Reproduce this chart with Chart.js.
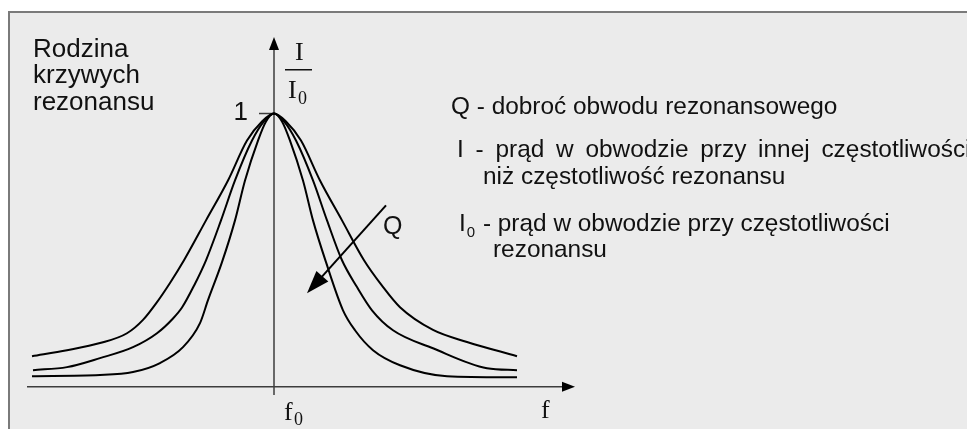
<!DOCTYPE html>
<html lang="pl">
<head>
<meta charset="utf-8">
<title>Rodzina krzywych rezonansu</title>
<script src="https://cdn.jsdelivr.net/npm/chart.js@4.4.1/dist/chart.umd.min.js"></script>
<style>
    html, body { margin: 0; padding: 0; background: #fff; overflow: hidden; }
    #ramka {
        position: absolute; left: 8px; top: 11px; width: 1000px; height: 500px;
        border-left: 2px solid #7a7a7a; border-top: 2px solid #7a7a7a; background: #ebebeb;
    }
    #wykres { position: absolute; left: 0; top: 0; }
</style>
</head>
<body>
<div id="ramka"></div>
<canvas id="wykres" width="967" height="429"></canvas>
<script>
// odstrojenie od f0 (jednostki umowne) i I/I0 - duza dobroc
const fQduze = [-2.42, -1.74, -1.41, -1.14, -0.91, -0.74, -0.66, -0.52, -0.39, -0.29, -0.16, -0.08, 0, 0.08, 0.16, 0.29, 0.39, 0.52, 0.69, 0.81, 0.99, 1.26, 1.73, 2.43]
const iQduze = [0.039, 0.043, 0.054, 0.087, 0.145, 0.233, 0.317, 0.456, 0.609, 0.755, 0.901, 0.971, 1, 0.971, 0.901, 0.755, 0.609, 0.456, 0.280, 0.207, 0.134, 0.079, 0.039, 0.035]
// srednia dobroc
const fQsrednie = [-2.41, -2.07, -1.74, -1.41, -1.17, -1.01, -0.92, -0.80, -0.68, -0.53, -0.39, -0.22, -0.10, 0, 0.10, 0.22, 0.39, 0.53, 0.68, 0.83, 0.98, 1.19, 1.59, 2.13, 2.43]
const iQsrednie = [0.061, 0.072, 0.105, 0.145, 0.196, 0.250, 0.290, 0.370, 0.463, 0.609, 0.755, 0.901, 0.971, 1, 0.971, 0.901, 0.755, 0.609, 0.463, 0.365, 0.280, 0.207, 0.141, 0.068, 0.061]
// mala dobroc
const fQmale = [-2.42, -2.07, -1.74, -1.47, -1.31, -1.17, -1.04, -0.90, -0.68, -0.46, -0.27, -0.12, 0, 0.12, 0.27, 0.46, 0.68, 0.90, 1.08, 1.26, 1.59, 1.93, 2.43]
const iQmale = [0.112, 0.134, 0.160, 0.196, 0.245, 0.310, 0.380, 0.463, 0.609, 0.755, 0.901, 0.971, 1, 0.971, 0.901, 0.755, 0.609, 0.463, 0.370, 0.291, 0.208, 0.164, 0.112]

// zakresy osi i strzalka "Q" (poczatek, grot) w jednostkach wykresu
const zakresF = [-2.47, 3.01]
const zakresI = [-0.03, 1.28]
const strzalkaQ = [[1.12, 0.664], [0.33, 0.342]]

const opisy = [
    'Q - dobroć obwodu rezonansowego',
    'I - prąd w obwodzie przy innej częstotliwości',
    'niż częstotliwość rezonansu',
    ' - prąd w obwodzie przy częstotliwości',
    'rezonansu'
]

const SANS = '"Liberation Sans", Arial, sans-serif'
const SERIF = '"Liberation Serif", "Times New Roman", serif'

function punkty(f, i) {
    return f.map((x, k) => ({ x: x, y: i[k] }))
}

function krzywa(f, i) {
    return {
        data: punkty(f, i),
        borderColor: '#000',
        borderWidth: 2,
        pointRadius: 0,
        fill: false,
        cubicInterpolationMode: 'monotone'
    }
}

function grot(ctx, x1, y1, x2, y2, dl, szer) {
    const kat = Math.atan2(y2 - y1, x2 - x1)
    ctx.beginPath()
    ctx.moveTo(x2, y2)
    ctx.lineTo(x2 - dl * Math.cos(kat) + szer * Math.sin(kat), y2 - dl * Math.sin(kat) - szer * Math.cos(kat))
    ctx.lineTo(x2 - dl * Math.cos(kat) - szer * Math.sin(kat), y2 - dl * Math.sin(kat) + szer * Math.cos(kat))
    ctx.closePath()
    ctx.fill()
}

// tekst z rozstrzelonymi wyrazami (wiersz wyjustowany)
function tekstRozstrzelony(ctx, tekst, x, y, odstep) {
    const slowa = tekst.split(' ')
    const spacja = ctx.measureText(' ').width
    slowa.forEach((s) => {
        ctx.fillText(s, x, y)
        x += ctx.measureText(s).width + spacja + odstep
    })
}

const osie = {
    id: 'osie',
    beforeDatasetsDraw(chart) {
        const ctx = chart.ctx
        const sx = chart.scales.x
        const sy = chart.scales.y
        const x0 = sx.getPixelForValue(0)
        const y0 = sy.getPixelForValue(0)
        ctx.save()
        ctx.strokeStyle = '#3c3c3c'
        ctx.fillStyle = '#000'
        ctx.lineWidth = 1.5
        // os I/I0
        const yGora = sy.getPixelForValue(zakresI[1])
        ctx.beginPath()
        ctx.moveTo(x0, sy.getPixelForValue(zakresI[0]))
        ctx.lineTo(x0, yGora + 10)
        ctx.stroke()
        grot(ctx, x0, yGora + 20, x0, yGora, 13, 5)
        // os f
        const xPrawo = sx.getPixelForValue(zakresF[1])
        ctx.beginPath()
        ctx.moveTo(sx.getPixelForValue(zakresF[0]), y0)
        ctx.lineTo(xPrawo - 10, y0)
        ctx.stroke()
        grot(ctx, xPrawo - 20, y0, xPrawo, y0, 13, 5)
        // kreska przy 1
        const y1 = sy.getPixelForValue(1)
        ctx.beginPath()
        ctx.moveTo(x0 - 15, y1)
        ctx.lineTo(x0, y1)
        ctx.stroke()
        ctx.restore()
    },
    afterDatasetsDraw(chart) {
        const ctx = chart.ctx
        const sx = chart.scales.x
        const sy = chart.scales.y
        const x0 = sx.getPixelForValue(0)
        const y0 = sy.getPixelForValue(0)
        ctx.save()
        ctx.fillStyle = '#111'
        ctx.textBaseline = 'alphabetic'

        // strzalka Q
        const ax = sx.getPixelForValue(strzalkaQ[0][0])
        const ay = sy.getPixelForValue(strzalkaQ[0][1])
        const bx = sx.getPixelForValue(strzalkaQ[1][0])
        const by = sy.getPixelForValue(strzalkaQ[1][1])
        ctx.strokeStyle = '#000'
        ctx.lineWidth = 2
        ctx.beginPath()
        ctx.moveTo(ax, ay)
        ctx.lineTo(bx + (ax - bx) * 0.15, by + (ay - by) * 0.15)
        ctx.stroke()
        ctx.fillStyle = '#000'
        grot(ctx, ax, ay, bx, by, 23, 8)
        ctx.fillStyle = '#111'
        ctx.font = '25px ' + SANS
        ctx.fillText('Q', 383, 234)

        // opis lewy
        ctx.font = '26px ' + SANS
        ctx.fillText('Rodzina', 33, 57)
        ctx.fillText('krzywych', 33, 83)
        ctx.fillText('rezonansu', 33, 110)

        // 1 na osi
        ctx.font = '26px ' + SANS
        ctx.textAlign = 'right'
        ctx.fillText('1', x0 - 26, sy.getPixelForValue(1) + 6)
        ctx.textAlign = 'left'

        // I / I0
        ctx.font = '26px ' + SERIF
        ctx.fillText('I', 295, 60)
        ctx.fillRect(285, 69, 27, 1.5)
        ctx.fillText('I', 288, 98)
        ctx.font = '18px ' + SERIF
        ctx.fillText('0', 298, 104)

        // f0 i f
        ctx.font = '26px ' + SERIF
        ctx.fillText('f', 284, y0 + 33)
        ctx.font = '18px ' + SERIF
        ctx.fillText('0', 294, y0 + 38)
        ctx.font = '26px ' + SERIF
        ctx.fillText('f', 541, y0 + 31)

        // objasnienia
        ctx.font = '24.4px ' + SANS
        ctx.fillText(opisy[0], 451, 114)
        tekstRozstrzelony(ctx, opisy[1], 457, 157, 5)
        ctx.fillText(opisy[2], 483, 184)
        ctx.fillText('I', 459, 231)
        const szerI = ctx.measureText('I').width
        ctx.font = '15px ' + SANS
        ctx.fillText('0', 459 + szerI + 1, 237)
        const szer0 = ctx.measureText('0').width
        ctx.font = '24.4px ' + SANS
        ctx.fillText(opisy[3], 459 + szerI + szer0 + 2, 231)
        ctx.fillText(opisy[4], 493, 257)
        ctx.restore()
    }
}

const wykres = new Chart(document.getElementById('wykres'), {
    type: 'line',
    data: {
        datasets: [
            krzywa(fQduze, iQduze),
            krzywa(fQsrednie, iQsrednie),
            krzywa(fQmale, iQmale)
        ]
    },
    options: {
        responsive: false,
        animation: false,
        layout: { padding: { left: 27, right: 392, top: 37, bottom: 34 } },
        plugins: { legend: { display: false }, tooltip: { enabled: false } },
        scales: {
            x: { type: 'linear', min: zakresF[0], max: zakresF[1], display: false },
            y: { type: 'linear', min: zakresI[0], max: zakresI[1], display: false }
        }
    },
    plugins: [osie]
})
</script>
</body>
</html>
